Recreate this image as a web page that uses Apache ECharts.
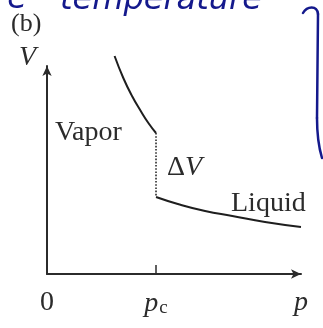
<!DOCTYPE html>
<html>
<head>
<meta charset="utf-8">
<style>
  html, body { margin: 0; padding: 0; background: #fff; }
  #chart { width: 323px; height: 328px; }
</style>
<script src="https://cdn.jsdelivr.net/npm/echarts@6/dist/echarts.min.js"></script>
</head>
<body>
<div id="chart"></div>
<script>
// Isotherm of a substance in the p–V plane: vapour branch, jump ΔV at p_c, liquid branch.
const pMax = 2.33;          // end of the pressure axis (p_c = 1)
const vMax = 2.08;          // end of the volume axis
const pC = 1;

// vapour branch (p < p_c)
const vaporP = [0.62, 0.70, 0.78, 0.86, 0.93, 1.0];
const vaporV = [2.18, 1.96, 1.78, 1.63, 1.51, 1.41];

// liquid branch (p > p_c)
const liquidP = [1.0, 1.2, 1.45, 1.7, 2.0, 2.33];
const liquidV = [0.77, 0.70, 0.63, 0.58, 0.52, 0.47];

// axis tick labels
const tickValues = [0, pC, pMax];
const tickLabels = ['0', '{i|p}{s|c}', '{i|p}'];

const ink = '#2b2b2b';
const pen = '#14198c';
const serif = '"Liberation Serif", "DejaVu Serif", serif';

const zip = (xs, ys) => xs.map((x, i) => [x, ys[i]]);

const chart = echarts.init(document.getElementById('chart'), null, { renderer: 'canvas' });

chart.setOption({
  animation: false,
  backgroundColor: '#fff',
  grid: { left: 47, right: 22, top: 66, bottom: 54 },
  xAxis: {
    type: 'value',
    min: 0,
    max: pMax,
    splitLine: { show: false },
    axisLine: {
      show: true,
      onZero: false,
      symbol: ['none', 'arrow'],
      symbolSize: [7, 10],
      lineStyle: { color: ink, width: 2 }
    },
    axisTick: {
      show: true,
      inside: true,
      length: 9,
      customValues: [pC],
      lineStyle: { color: ink, width: 1.5 }
    },
    axisLabel: {
      show: true,
      customValues: tickValues,
      margin: 15,
      color: ink,
      fontFamily: serif,
      fontSize: 28,
      formatter: (v) => tickLabels[tickValues.indexOf(v)] ?? '',
      rich: {
        i: { fontFamily: serif, fontStyle: 'italic', fontSize: 28, color: ink },
        s: { fontFamily: serif, fontSize: 19, color: ink, padding: [10, 0, 0, 1] }
      }
    }
  },
  yAxis: {
    type: 'value',
    min: 0,
    max: vMax,
    name: 'V',
    nameLocation: 'end',
    nameGap: -6,
    nameTextStyle: {
      fontFamily: serif,
      fontStyle: 'italic',
      fontSize: 28,
      color: ink,
      align: 'right',
      verticalAlign: 'bottom',
      padding: [0, 11, 0, 0]
    },
    splitLine: { show: false },
    axisTick: { show: false },
    axisLabel: { show: false },
    axisLine: {
      show: true,
      onZero: false,
      symbol: ['none', 'arrow'],
      symbolSize: [7, 10],
      lineStyle: { color: ink, width: 2 }
    }
  },
  series: [
    {
      name: 'Vapor',
      type: 'line',
      smooth: true,
      showSymbol: false,
      clip: false,
      data: zip(vaporP, vaporV),
      lineStyle: { color: '#1e1e1e', width: 2 }
    },
    {
      name: 'ΔV',
      type: 'line',
      showSymbol: false,
      data: [[pC, vaporV[vaporV.length - 1]], [pC, liquidV[0]]],
      lineStyle: { color: ink, width: 1.6, type: 'dotted' }
    },
    {
      name: 'Liquid',
      type: 'line',
      smooth: true,
      showSymbol: false,
      clip: false,
      data: zip(liquidP, liquidV),
      lineStyle: { color: '#1e1e1e', width: 2 }
    }
  ],
  graphic: [
    // panel letter
    { type: 'text', x: 11, y: 11,
      style: { text: '(b)', font: '26px ' + serif, fill: ink } },
    // region / branch labels
    { type: 'text', x: 55, y: 119,
      style: { text: 'Vapor', font: '28px ' + serif, fill: ink } },
    { type: 'text', x: 167, y: 154,
      style: { text: '{d|Δ}{v|V}', font: '28px ' + serif, fill: ink,
        rich: { d: { font: '28px ' + serif, fill: ink }, v: { font: 'italic 28px ' + serif, fill: ink } } } },
    { type: 'text', x: 231, y: 190,
      style: { text: 'Liquid', font: '28px ' + serif, fill: ink } },
    // pen notes in the margin
    { type: 'text', x: -6, y: -16,
      style: { text: 're', font: 'italic 32px "DejaVu Sans", sans-serif', fill: pen } },
    { type: 'text', x: 60, y: -15,
      style: { text: 'temperature', font: 'italic 32px "DejaVu Sans", sans-serif', fill: pen } },
    { type: 'bezierCurve',
      shape: { x1: 303, y1: 13, cpx1: 307, cpy1: 6, cpx2: 317, cpy2: 5, x2: 318, y2: 14 },
      style: { fill: 'none', stroke: pen, lineWidth: 2.5, lineCap: 'round' } },
    { type: 'line',
      shape: { x1: 318, y1: 14, x2: 317, y2: 118 },
      style: { stroke: pen, lineWidth: 2.5, lineCap: 'round' } },
    { type: 'bezierCurve',
      shape: { x1: 317, y1: 118, cpx1: 317, cpy1: 138, cpx2: 319, cpy2: 148, x2: 322, y2: 158 },
      style: { fill: 'none', stroke: pen, lineWidth: 2.5, lineCap: 'round' } }
  ]
});
</script>
</body>
</html>
